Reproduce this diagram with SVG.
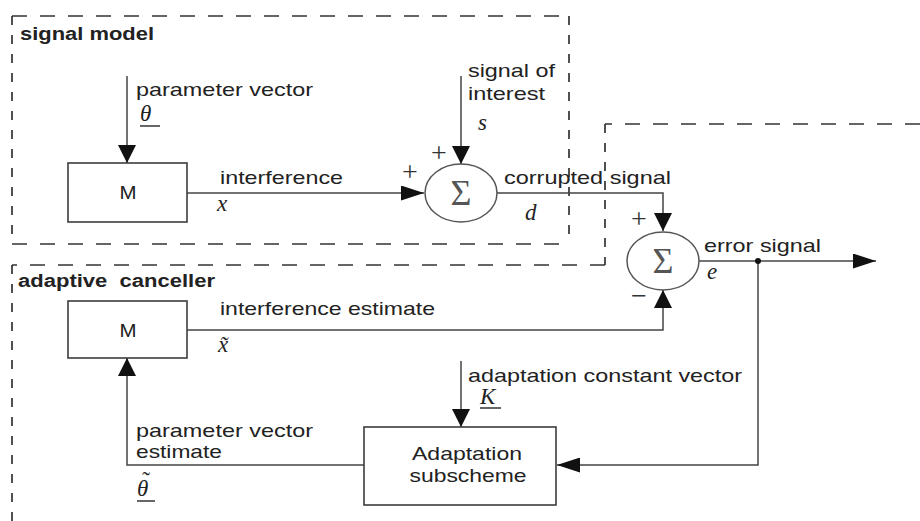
<svg xmlns="http://www.w3.org/2000/svg" width="920" height="521" viewBox="0 0 920 521">
  <defs>
    <style>
      .lbl { font-family: "Liberation Sans", Arial, sans-serif; font-size: 19px; fill: #222; }
      .ttl { font-family: "Liberation Sans", Arial, sans-serif; font-size: 18px; font-weight: bold; fill: #222; }
      .math { font-family: "Liberation Serif", "Times New Roman", serif; font-style: italic; font-size: 23px; fill: #222; }
      .upright { font-style: normal; }
      .sign { font-family: "Liberation Serif", "Times New Roman", serif; font-size: 28px; fill: #333; text-anchor: middle; }
      .sigma { font-family: "Liberation Serif", "Times New Roman", serif; font-size: 36px; fill: #555; text-anchor: middle; }
      .box { fill: #fff; stroke: #3c3c3c; stroke-width: 1.6; }
      .sum { fill: #fff; stroke: #555; stroke-width: 1.5; }
      .wire { fill: none; stroke: #444; stroke-width: 1.5; }
      .bar { stroke: #333; stroke-width: 1.5; }
      .frame { fill: none; stroke: #333; stroke-width: 1.7; }
      .dh { stroke-dasharray: 15 13; }
      .dv { stroke-dasharray: 9 10; }
    </style>
    <marker id="ah-v" markerWidth="18" markerHeight="18" refX="18" refY="9" orient="auto" markerUnits="userSpaceOnUse">
      <path d="M0,0 L18,9 L0,18 Z" fill="#111"/>
    </marker>
    <marker id="ah-h" markerWidth="23" markerHeight="15" refX="23" refY="7.5" orient="auto" markerUnits="userSpaceOnUse">
      <path d="M0,0 L23,7.5 L0,15 Z" fill="#111"/>
    </marker>
  </defs>

  <rect width="920" height="521" fill="#fff"/>

  <!-- dashed sub-system frames -->
  <g id="frame-signal-model">
    <path class="frame dh" d="M12,16 H569 M12,244 H569"/>
    <path class="frame dv" d="M12,16 V244 M569,16 V244"/>
    <text class="ttl" x="20" y="40" textLength="134" lengthAdjust="spacingAndGlyphs">signal model</text>
  </g>
  <g id="frame-adaptive-canceller">
    <path class="frame dh" d="M920,124 H605 M605,265 H12"/>
    <path class="frame dv" d="M605,124 V265 M12,265 V521"/>
    <text class="ttl" x="18" y="287" textLength="197" lengthAdjust="spacingAndGlyphs" xml:space="preserve">adaptive  canceller</text>
  </g>

  <!-- connectors -->
  <g id="connectors">
    <path class="wire" d="M127,76 V163" marker-end="url(#ah-v)"/>
    <path class="wire" d="M187,193 H424" marker-end="url(#ah-h)"/>
    <path class="wire" d="M461,76 V164" marker-end="url(#ah-v)"/>
    <path class="wire" d="M497,193 H663 V231" marker-end="url(#ah-v)"/>
    <path class="wire" d="M699,261 H876" marker-end="url(#ah-h)"/>
    <path class="wire" d="M758,261 V465 H557" marker-end="url(#ah-h)"/>
    <path class="wire" d="M187,330 H663 V290" marker-end="url(#ah-v)"/>
    <path class="wire" d="M364,465 H127 V358" marker-end="url(#ah-v)"/>
    <path class="wire" d="M461,361 V427" marker-end="url(#ah-v)"/>
    <circle cx="758" cy="261" r="3" fill="#111"/>
  </g>

  <!-- signal model blocks -->
  <g id="model-M">
    <rect class="box" x="68" y="163" width="119" height="59"/>
    <text class="lbl" x="128" y="199" text-anchor="middle" textLength="17" lengthAdjust="spacingAndGlyphs">M</text>
  </g>
  <g id="sum-1">
    <ellipse class="sum" cx="461" cy="193" rx="36" ry="29"/>
    <text class="sigma" x="461" y="205">Σ</text>
    <text class="sign" x="439" y="162">+</text>
    <text class="sign" x="410" y="181">+</text>
  </g>

  <!-- canceller blocks -->
  <g id="sum-2">
    <ellipse class="sum" cx="663" cy="261" rx="36" ry="29"/>
    <text class="sigma" x="663" y="273">Σ</text>
    <text class="sign" x="639" y="228">+</text>
    <text class="sign" x="639" y="305">−</text>
  </g>
  <g id="estimate-M">
    <rect class="box" x="68" y="301" width="119" height="57"/>
    <text class="lbl" x="128" y="337" text-anchor="middle" textLength="17" lengthAdjust="spacingAndGlyphs">M</text>
  </g>
  <g id="adaptation">
    <rect class="box" x="364" y="427" width="192" height="78"/>
    <text class="lbl" x="467" y="460" text-anchor="middle" textLength="110" lengthAdjust="spacingAndGlyphs">Adaptation</text>
    <text class="lbl" x="468" y="482" text-anchor="middle" textLength="117" lengthAdjust="spacingAndGlyphs">subscheme</text>
  </g>

  <!-- signal labels -->
  <g id="labels">
    <text class="lbl" x="136" y="96" textLength="177" lengthAdjust="spacingAndGlyphs">parameter vector</text>
    <text class="math" x="140" y="121">θ</text>
    <line class="bar" x1="140" y1="126" x2="160" y2="126"/>

    <text class="lbl" x="220" y="184" textLength="123" lengthAdjust="spacingAndGlyphs">interference</text>
    <text class="math" x="217" y="211">x</text>

    <text class="lbl" x="468" y="77" textLength="87" lengthAdjust="spacingAndGlyphs">signal of</text>
    <text class="lbl" x="468" y="100" textLength="77" lengthAdjust="spacingAndGlyphs">interest</text>
    <text class="math" x="478" y="130">s</text>

    <text class="lbl" x="504" y="184" textLength="167" lengthAdjust="spacingAndGlyphs">corrupted signal</text>
    <text class="math" x="525" y="220">d</text>

    <text class="lbl" x="704" y="252" textLength="117" lengthAdjust="spacingAndGlyphs">error signal</text>
    <text class="math" x="707" y="279">e</text>

    <text class="lbl" x="220" y="315" textLength="215" lengthAdjust="spacingAndGlyphs">interference estimate</text>
    <text class="math" x="218" y="352">x̃</text>

    <text class="lbl" x="468" y="382" textLength="274" lengthAdjust="spacingAndGlyphs">adaptation constant vector</text>
    <text class="math" x="480" y="404">K</text>
    <line class="bar" x1="480" y1="408" x2="501" y2="408"/>

    <text class="lbl" x="136" y="437" textLength="177" lengthAdjust="spacingAndGlyphs">parameter vector</text>
    <text class="lbl" x="136" y="458" textLength="86" lengthAdjust="spacingAndGlyphs">estimate</text>
    <text class="math" x="137" y="496">θ<tspan class="upright" dx="-6" dy="-8">˜</tspan></text>
    <line class="bar" x1="137" y1="501" x2="155" y2="501"/>
  </g>
</svg>
